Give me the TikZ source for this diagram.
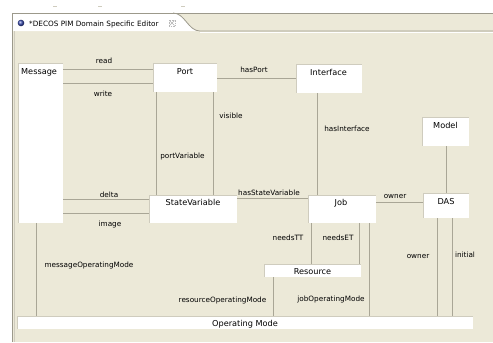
\documentclass[tikz,border=0pt]{standalone}
\usepackage{fontspec}
\setmainfont{DejaVu Sans}
\definecolor{pane}{HTML}{ECE9D8}
\definecolor{wire}{HTML}{A9A696}
\definecolor{rim}{HTML}{CFCCBE}
\definecolor{frameln}{HTML}{9C998B}
\definecolor{globe}{HTML}{3A4CB0}

\begin{document}
\begin{tikzpicture}[x=1bp,y=-1bp,
  box/.style={fill=white, draw=none, anchor=north west, inner sep=0pt, outer sep=0pt,
    path picture={\draw[rim, line width=1.4bp]
      (path picture bounding box.south west) -- (path picture bounding box.north west)
      -- (path picture bounding box.north east);}},
  title/.style={font=\fontsize{8.2}{9}\selectfont, anchor=base, inner sep=0pt},
  lab/.style={font=\fontsize{7.3}{8}\selectfont, anchor=base, inner sep=0pt},
  conn/.style={draw=wire, line width=1bp},
]
% ---- editor frame ----
\useasboundingbox (0,0) rectangle (493,342);
\fill[white] (0,0) rectangle (493,342);
\fill[pane] (12,13) rectangle (493,342);
\fill[white] (12,13) -- (173,13) .. controls (185,13) and (188,31) .. (200,31) -- (12,31) -- cycle;
\draw[frameln, line width=0.8bp] (12,13) -- (493,13);
\draw[frameln, line width=0.8bp] (173,13) .. controls (185,13) and (188,31) .. (200,31) -- (493,31);
\draw[white, line width=0.8bp] (200,32.2) -- (493,32.2);
\draw[frameln, line width=1bp] (12,13) -- (12,342);
\draw[rim, line width=0.8bp] (14,31) -- (14,342);
\foreach \tx in {55,100,183} \draw[rim, line width=0.7bp] (\tx-2,6) -- (\tx+2,6);

% tab title with icon and close button
\shade[ball color=globe] (21,23) circle (3.3bp);
\node[font=\fontsize{7.3}{8}\selectfont, anchor=base west, inner sep=0pt] (tabtitle) at (29,26) {*DECOS PIM Domain Specific Editor};
\draw[gray!55, line width=0.6bp, densely dotted] (169,20) rectangle (175,26);
\draw[gray!60, line width=0.6bp] (169.5,20.5) -- (174.5,25.5) (169.5,25.5) -- (174.5,20.5);

% ---- classes ----
\node[box, minimum width=45bp, minimum height=160bp] (msg) at (18,63) {};
\node[box, minimum width=64bp, minimum height=29bp] (port) at (153,63) {};
\node[box, minimum width=66bp, minimum height=29bp] (iface) at (296,64) {};
\node[box, minimum width=47bp, minimum height=29bp] (model) at (422,117) {};
\node[box, minimum width=46bp, minimum height=25bp] (das) at (423,193) {};
\node[box, minimum width=68bp, minimum height=28bp] (job) at (308,195) {};
\node[box, minimum width=88bp, minimum height=28bp] (sv) at (149,195) {};
\node[box, minimum width=97bp, minimum height=13bp] (res) at (264,264) {};
\node[box, minimum width=456bp, minimum height=13bp] (om) at (17,316) {};

\node[title, anchor=base west] (msgT) at (21,74) {Message};
\node[title] (portT) at (185,74) {Port};
\node[title] (ifaceT) at (328.5,75) {Interface};
\node[title] (modelT) at (445.5,128) {Model};
\node[title] (dasT) at (446,204) {DAS};
\node[title] (jobT) at (341,205) {Job};
\node[title] (svT) at (193,205) {StateVariable};
\node[title] (resT) at (312.5,274) {Resource};
\node[title] (omT) at (245,326) {Operating Mode};

% ---- associations ----
\draw[conn] (msg.east |- 0,69) -- (port.west |- 0,69);
\draw[conn] (msg.east |- 0,83) -- (port.west |- 0,83);
\draw[conn] (port.east |- 0,78) -- (iface.west |- 0,78);
\draw[conn] (port.south -| 156,0) -- (sv.north -| 156,0);
\draw[conn] (port.south -| 213,0) -- (sv.north -| 213,0);
\draw[conn] (msg.east |- 0,199) -- (sv.west |- 0,199);
\draw[conn] (msg.east |- 0,213) -- (sv.west |- 0,213);
\draw[conn] (sv.east |- 0,198) -- (job.west |- 0,198);
\draw[conn] (iface.south -| 317,0) -- (job.north -| 317,0);
\draw[conn] (model.south -| 446,0) -- (das.north -| 446,0);
\draw[conn] (job.east |- 0,202) -- (das.west |- 0,202);
\draw[conn] (job.south -| 311,0) -- (res.north -| 311,0);
\draw[conn] (job.south -| 359,0) -- (res.north -| 359,0);
\draw[conn] (job.south -| 369,0) -- (om.north -| 369,0);
\draw[conn] (res.south -| 273,0) -- (om.north -| 273,0);
\draw[conn] (das.south -| 437,0) -- (om.north -| 437,0);
\draw[conn] (das.south -| 452,0) -- (om.north -| 452,0);
\draw[conn] (msg.south -| 36,0) -- (om.north -| 36,0);

% ---- role labels ----
\node[lab] (lread) at (104,63) {read};
\node[lab] (lwrite) at (103,96) {write};
\node[lab] (lhasport) at (254,72) {hasPort};
\node[lab] (lvisible) at (231,118) {visible};
\node[lab] (lportvar) at (182.5,158) {portVariable};
\node[lab] (ldelta) at (109,197) {delta};
\node[lab] (limage) at (110,226) {image};
\node[lab] (lhassv) at (269,195) {hasStateVariable};
\node[lab] (lhasif) at (347,131) {hasInterface};
\node[lab] (lowner) at (395,198) {owner};
\node[lab] (lneedstt) at (288,240) {needsTT};
\node[lab] (lneedset) at (338,240) {needsET};
\node[lab] (lowner2) at (418,258) {owner};
\node[lab] (linitial) at (465,257) {initial};
\node[lab] (lmsgom) at (89,267) {messageOperatingMode};
\node[lab] (lresom) at (222.5,302) {resourceOperatingMode};
\node[lab] (ljobom) at (331,301) {jobOperatingMode};
\end{tikzpicture}
\end{document}
